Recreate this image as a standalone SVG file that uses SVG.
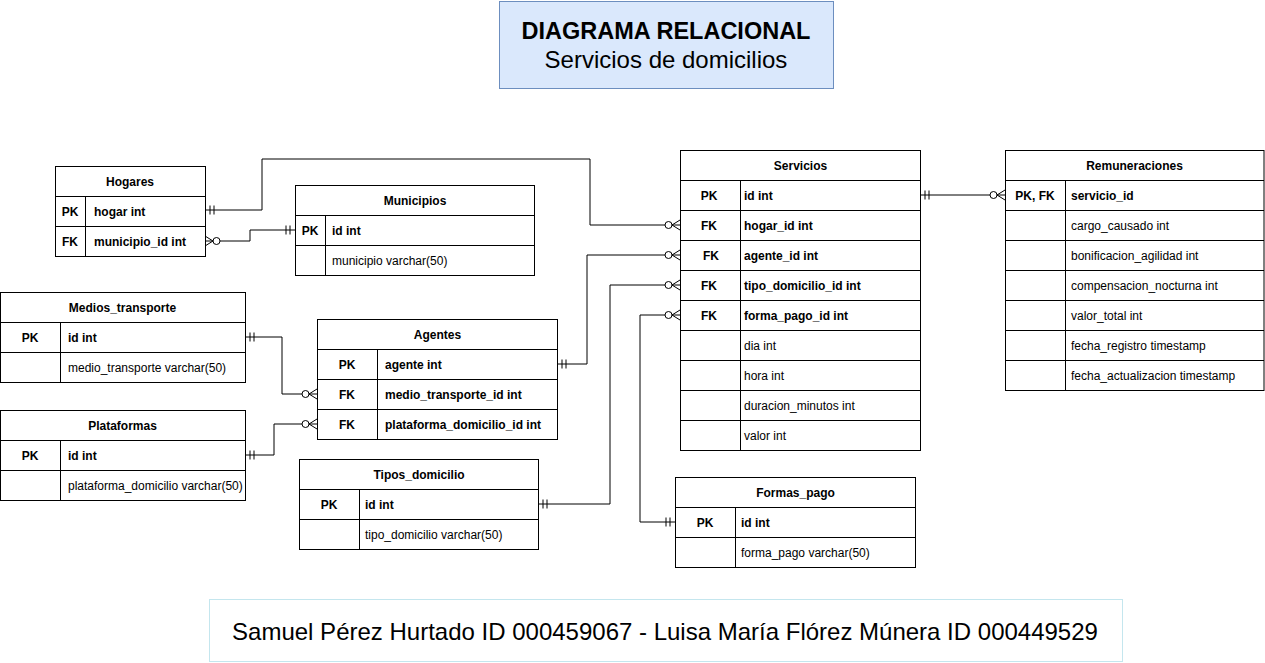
<svg xmlns="http://www.w3.org/2000/svg" width="1265" height="663" viewBox="0 0 1265 663">
<style>
.tb{fill:#fff;stroke:#000;stroke-width:1}
.sep{stroke:#000;stroke-width:1}
text{font-family:"Liberation Sans",Arial,sans-serif;fill:#000}
.h{font-size:12px;font-weight:bold;text-anchor:middle}
.k{font-size:12px;font-weight:bold;text-anchor:middle}
.fb{font-size:12px;font-weight:bold}
.f{font-size:12px}
.c{fill:none;stroke:#000;stroke-width:1}
</style>
<defs>
<marker id="one" markerUnits="userSpaceOnUse" viewBox="-15 -6 16 12" refX="0" refY="0" markerWidth="16" markerHeight="12" orient="auto-start-reverse" overflow="visible">
<path d="M-5,-4.5V4.5M-9,-4.5V4.5" stroke="#000" fill="none"/>
</marker>
<marker id="many" markerUnits="userSpaceOnUse" viewBox="-16 -6 17 12" refX="0" refY="0" markerWidth="17" markerHeight="12" orient="auto-start-reverse" overflow="visible">
<path d="M0,-5L-8,0L0,5" stroke="#000" fill="none"/>
<circle cx="-11.5" cy="0" r="3.5" fill="#fff" stroke="#000"/>
</marker>
</defs>
<rect width="1265" height="663" fill="#fff"/>

<g id="title">
<rect x="499.5" y="1.5" width="334" height="87" fill="#dae8fc" stroke="#6c8ebf"/>
<text x="666" y="38.5" style="font-size:23.5px;font-weight:bold;text-anchor:middle">DIAGRAMA RELACIONAL</text>
<text x="666" y="67.5" style="font-size:24px;text-anchor:middle">Servicios de domicilios</text>
</g>

<g id="connectors">
<path class="c" d="M205,210H262V159H590V225H680" marker-start="url(#one)" marker-end="url(#many)"/>
<path class="c" d="M205,241H250V230H295" marker-start="url(#many)" marker-end="url(#one)"/>
<path class="c" d="M245,337H282V394H317" marker-start="url(#one)" marker-end="url(#many)"/>
<path class="c" d="M245,455H274V424H317" marker-start="url(#one)" marker-end="url(#many)"/>
<path class="c" d="M557,364H587V255H680" marker-start="url(#one)" marker-end="url(#many)"/>
<path class="c" d="M538,504H610V285H680" marker-start="url(#one)" marker-end="url(#many)"/>
<path class="c" d="M675,522H640V315H680" marker-start="url(#one)" marker-end="url(#many)"/>
<path class="c" d="M920,195H1005" marker-start="url(#one)" marker-end="url(#many)"/>
</g>

<g id="Hogares">
<rect class="tb" x="55.5" y="166.5" width="150" height="90"/>
<path class="sep" d="M55.5,196.5H205.5M55.5,226.5H205.5M85.5,196.5V256.5"/>
<text class="h" x="130" y="185.5">Hogares</text>
<text class="k" x="70" y="215.5">PK</text><text class="fb" x="94" y="215.5">hogar int</text>
<text class="k" x="70" y="245.5">FK</text><text class="fb" x="94" y="245.5">municipio_id int</text>
</g>

<g id="Municipios">
<rect class="tb" x="295.5" y="185.5" width="239" height="90"/>
<path class="sep" d="M295.5,215.5H534.5M295.5,245.5H534.5M325.5,215.5V275.5"/>
<text class="h" x="415" y="204.5">Municipios</text>
<text class="k" x="310" y="234.5">PK</text><text class="fb" x="332" y="234.5">id int</text>
<text class="f" x="332" y="264.5">municipio varchar(50)</text>
</g>

<g id="Medios_transporte">
<rect class="tb" x="0.5" y="292.5" width="245" height="90"/>
<path class="sep" d="M0.5,322.5H245.5M0.5,352.5H245.5M60.5,322.5V382.5"/>
<text class="h" x="122.5" y="311.5">Medios_transporte</text>
<text class="k" x="30" y="341.5">PK</text><text class="fb" x="68" y="341.5">id int</text>
<text class="f" x="68" y="371.5">medio_transporte varchar(50)</text>
</g>

<g id="Plataformas">
<rect class="tb" x="0.5" y="410.5" width="245" height="90"/>
<path class="sep" d="M0.5,440.5H245.5M0.5,470.5H245.5M60.5,440.5V500.5"/>
<text class="h" x="122.5" y="429.5">Plataformas</text>
<text class="k" x="30" y="459.5">PK</text><text class="fb" x="68" y="459.5">id int</text>
<text class="f" x="68" y="489.5">plataforma_domicilio varchar(50)</text>
</g>

<g id="Agentes">
<rect class="tb" x="317.5" y="319.5" width="240" height="120"/>
<path class="sep" d="M317.5,349.5H557.5M317.5,379.5H557.5M317.5,409.5H557.5M377.5,349.5V439.5"/>
<text class="h" x="437.5" y="338.5">Agentes</text>
<text class="k" x="347" y="368.5">PK</text><text class="fb" x="385" y="368.5">agente int</text>
<text class="k" x="347" y="398.5">FK</text><text class="fb" x="385" y="398.5">medio_transporte_id int</text>
<text class="k" x="347" y="428.5">FK</text><text class="fb" x="385" y="428.5">plataforma_domicilio_id int</text>
</g>

<g id="Tipos_domicilio">
<rect class="tb" x="299.5" y="459.5" width="239" height="90"/>
<path class="sep" d="M299.5,489.5H538.5M299.5,519.5H538.5M359.5,489.5V549.5"/>
<text class="h" x="419" y="478.5">Tipos_domicilio</text>
<text class="k" x="329" y="508.5">PK</text><text class="fb" x="365" y="508.5">id int</text>
<text class="f" x="365" y="538.5">tipo_domicilio varchar(50)</text>
</g>

<g id="Servicios">
<rect class="tb" x="680.5" y="150.5" width="240" height="300"/>
<path class="sep" d="M680.5,180.5H920.5M680.5,210.5H920.5M680.5,240.5H920.5M680.5,270.5H920.5M680.5,300.5H920.5M680.5,330.5H920.5M680.5,360.5H920.5M680.5,390.5H920.5M680.5,420.5H920.5M740.5,180.5V450.5"/>
<text class="h" x="800.5" y="169.5">Servicios</text>
<text class="k" x="709" y="199.5">PK</text><text class="fb" x="744" y="199.5">id int</text>
<text class="k" x="709" y="229.5">FK</text><text class="fb" x="744" y="229.5">hogar_id int</text>
<text class="k" x="711" y="259.5">FK</text><text class="fb" x="744" y="259.5">agente_id int</text>
<text class="k" x="709" y="289.5">FK</text><text class="fb" x="744" y="289.5">tipo_domicilio_id int</text>
<text class="k" x="709" y="319.5">FK</text><text class="fb" x="744" y="319.5">forma_pago_id int</text>
<text class="f" x="744" y="349.5">dia int</text>
<text class="f" x="744" y="379.5">hora int</text>
<text class="f" x="744" y="409.5">duracion_minutos int</text>
<text class="f" x="744" y="439.5">valor int</text>
</g>

<g id="Remuneraciones">
<rect class="tb" x="1005.5" y="150.5" width="258.5" height="240"/>
<path class="sep" d="M1005.5,180.5H1264M1005.5,210.5H1264M1005.5,240.5H1264M1005.5,270.5H1264M1005.5,300.5H1264M1005.5,330.5H1264M1005.5,360.5H1264M1065.5,180.5V390.5"/>
<text class="h" x="1134.5" y="169.5">Remuneraciones</text>
<text class="k" x="1035" y="199.5">PK, FK</text><text class="fb" x="1071" y="199.5">servicio_id</text>
<text class="f" x="1071" y="229.5">cargo_causado int</text>
<text class="f" x="1071" y="259.5">bonificacion_agilidad int</text>
<text class="f" x="1071" y="289.5">compensacion_nocturna int</text>
<text class="f" x="1071" y="319.5">valor_total int</text>
<text class="f" x="1071" y="349.5">fecha_registro timestamp</text>
<text class="f" x="1071" y="379.5">fecha_actualizacion timestamp</text>
</g>

<g id="Formas_pago">
<rect class="tb" x="675.5" y="477.5" width="240" height="90"/>
<path class="sep" d="M675.5,507.5H915.5M675.5,537.5H915.5M735.5,507.5V567.5"/>
<text class="h" x="795.5" y="496.5">Formas_pago</text>
<text class="k" x="705" y="526.5">PK</text><text class="fb" x="741" y="526.5">id int</text>
<text class="f" x="741" y="556.5">forma_pago varchar(50)</text>
</g>

<g id="footer">
<rect x="209.5" y="599.5" width="913" height="62" fill="#fff" stroke="#c4e6ee"/>
<text x="665" y="639.5" style="font-size:24px;text-anchor:middle">Samuel Pérez Hurtado ID 000459067 - Luisa María Flórez Múnera ID 000449529</text>
</g>
</svg>
